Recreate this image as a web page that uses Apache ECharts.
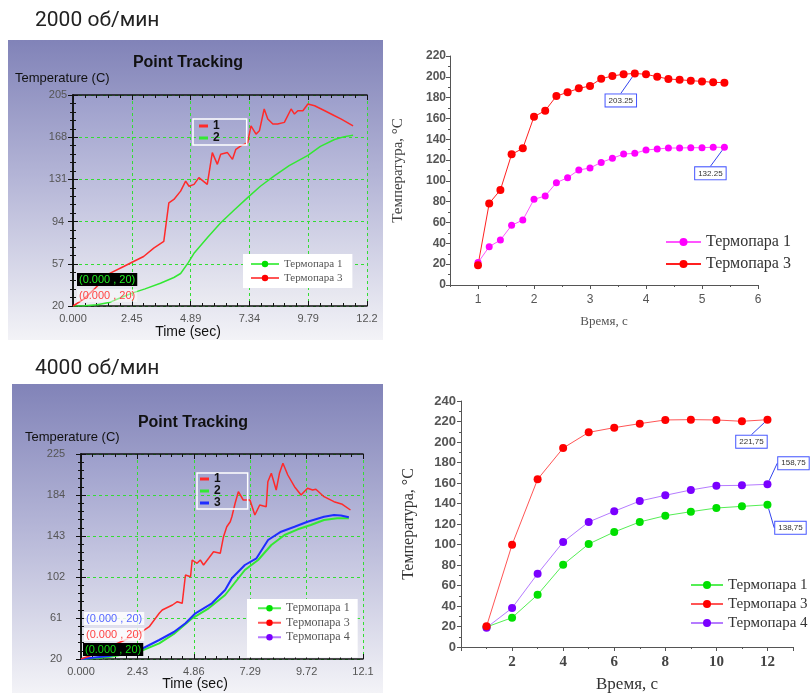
<!DOCTYPE html>
<html><head><meta charset="utf-8">
<script src="https://cdn.jsdelivr.net/npm/echarts@6/dist/echarts.min.js"></script>
<style>html,body{margin:0;padding:0;background:#fff}#c{width:811px;height:693px}</style>
</head><body><div id="c"></div>
<script>
// ---------- 2000 rpm, Point Tracking (left top) ----------
const tl_red_t = [0,0.45,0.92,1.55,2.11,2.52,2.94,3.36,3.78,3.99,4.2,4.48,4.69,4.83,5.04,5.24,5.59,5.8,6.01,6.15,6.43,6.64,6.78,6.99,7.27,7.41,7.62,7.76,7.96,8.11,8.32,8.52,8.8,9.08,9.22,9.36,9.57,9.78,10.06,10.48,10.89,11.17,11.66];
const tl_red_T = [20,26,35.6,48.8,54.6,59,63.4,70.8,76.7,110.4,113.4,120.7,129.5,125,126.6,132.5,126.6,154.5,144.2,153,154.5,148.6,157.4,160.4,163.3,178,170.7,173.6,192.7,183.9,179.5,179.5,181,192.7,188.3,191.2,191.2,197.1,195.6,191.2,186.8,183.9,178];
const tl_green_t = [0,0.5,1.0,1.5,2.0,2.52,3.0,3.64,4.2,4.48,4.8,5.03,5.6,6.15,6.7,7.27,7.8,8.38,9.0,9.78,10.3,10.89,11.3,11.66];
const tl_green_T = [20,20.2,21,23,27.5,31.7,35,40,45,48.5,58,66,80,93,104,115,125,134,143,152,160,166,168.5,169.8];
const tl_xTickLabels = ['0.000','2.45','4.89','7.34','9.79','12.2'];

// ---------- 4000 rpm, Point Tracking (left bottom) ----------
const bl_red_t = [0,0.6,1.24,1.9,2.52,2.94,3.37,3.5,3.94,4.15,4.36,4.5,4.72,4.79,5.0,5.14,5.28,5.5,5.71,6.0,6.14,6.28,6.43,6.5,6.64,6.78,6.99,7.28,7.49,7.7,7.98,8.05,8.2,8.41,8.55,8.7,8.91,9.2,9.48,9.76,9.98,10.12,10.47,10.9,11.26,11.61];
const bl_red_T = [20,25,32.3,39,45.7,52.3,65.7,69,74,77.3,75.7,104,102.3,119,115.7,119,114,120.7,127.3,125.7,142.3,152.3,157.3,162.3,175.7,187.3,179,179,164,174,172.3,197.3,205.7,189,205.7,215.7,204,192.3,184,190.7,189,189.7,182.3,177.3,174.7,169];
const bl_blue_t = [0,1.2,2.52,3.37,4.0,4.5,4.93,5.64,6.21,6.5,7.06,7.56,8.06,8.62,9.2,9.76,10.47,10.9,11.2,11.54];
const bl_blue_T = [20,23,29,39,47,55.7,65.7,75.7,89,100.7,114,120.7,139,147.3,152.3,157.3,162.3,164,163.5,161.7];
const bl_green_t = [0,1.2,2.52,3.37,4.0,4.79,5.5,6.21,7.06,7.63,8.2,8.77,9.34,9.9,10.47,11.04,11.54];
const bl_green_T = [20,22,27.3,35.7,45,60.7,70.7,84,109,119,134,144,149.7,154,159,160.7,160.7];
const bl_xTickLabels = ['0.000','2.43','4.86','7.29','9.72','12.1'];

// ---------- 2000 rpm, measured (right top) ----------
const tr_time = [1.0,1.2,1.4,1.6,1.8,2.0,2.2,2.4,2.6,2.8,3.0,3.2,3.4,3.6,3.8,4.0,4.2,4.4,4.6,4.8,5.0,5.2,5.4];
const tr_tc1 = [21.5,36.8,43.2,57.3,62.4,82.3,85.5,98.3,103.1,110.5,112.4,117.8,121.7,125.8,126.5,129.7,130.6,131.6,131.6,131.9,131.9,132.4,132.25];
const tr_tc3 = [19,78.4,91.3,125.5,131.3,161.7,167.5,181.5,185.1,188.9,191.2,198.2,200.8,202.5,203.25,202.4,200.1,197.9,197.2,196.3,195.6,194.7,194.4];
const tr_xTicks = [1,2,3,4,5,6];

// ---------- 4000 rpm, measured (right bottom) ----------
const br_time = [1,2,3,4,5,6,7,8,9,10,11,12];
const br_tc1 = [19.5,28.6,51,80.3,100.5,112.2,122,128.1,132,135.6,137.2,138.75];
const br_tc3 = [20.2,99.8,163.6,194.1,209.4,214,217.9,221.5,221.8,221.5,220.2,221.75];
const br_tc4 = [18.9,38,71.5,102.4,122,132.4,142.4,148,153.2,157.4,157.7,158.75];

const SANS = 'Liberation Sans, Arial, sans-serif';
const SERIF = 'Liberation Serif, Times New Roman, serif';

function zip(a, b) { return a.map((v, i) => [v, b[i]]); }
function annotate(xs, ys, idx, text) {
  return xs.map((v, i) => i === idx ? { value: [v, ys[i]], label: { show: true, formatter: text } } : [v, ys[i]]);
}

const chart = echarts.init(document.getElementById('c'), null, { renderer: 'canvas' });

const panelGrad = () => new echarts.graphic.LinearGradient(0, 0, 0, 1, [
  { offset: 0, color: '#8183b8' }, { offset: 0.45, color: '#b3b4d6' }, { offset: 1, color: '#f3f3f7' }]);
const plotGrad = () => new echarts.graphic.LinearGradient(0, 0, 0, 1, [
  { offset: 0, color: '#9c9ecb' }, { offset: 0.5, color: '#c4c5e0' }, { offset: 1, color: '#ececf2' }]);

function frameX(grid, min, max, interval, labels, pos) {
  return {
    gridIndex: grid, type: 'value', position: pos, min: min, max: max, interval: interval,
    axisLine: { show: true, onZero: false, lineStyle: { color: '#111', width: 1.5 } },
    axisTick: { show: true, inside: true, length: 5, lineStyle: { color: '#111' } },
    minorTick: { show: true, splitNumber: 5, length: 3, lineStyle: { color: '#111' } },
    axisLabel: labels ? { show: true, color: '#555', fontSize: 11, fontFamily: SANS, margin: 7,
      formatter: v => labels[Math.round(v / interval)] } : { show: false },
    splitLine: { show: !!labels, lineStyle: { color: '#33dd33', type: [3, 3], width: 1 } },
    minorSplitLine: { show: false }
  };
}
function frameY(grid, min, max, interval, pos, show, margin) {
  return {
    gridIndex: grid, type: 'value', position: pos, min: min, max: max, interval: interval,
    axisLine: { show: true, lineStyle: { color: '#111', width: 1.5 } },
    axisTick: { show: true, inside: true, length: 5, lineStyle: { color: '#111' } },
    minorTick: { show: true, splitNumber: 5, length: 3, lineStyle: { color: '#111' } },
    axisLabel: show ? { show: true, color: '#555', fontSize: 11, fontFamily: SANS, margin: margin, align: 'center' } : { show: false },
    splitLine: { show: show, lineStyle: { color: '#33dd33', type: [3, 3], width: 1 } },
    minorSplitLine: { show: false }
  };
}

const annLabel = { show: false, position: 'inside', fontSize: 8, fontFamily: SANS, color: '#333',
  backgroundColor: '#fff', borderColor: '#4455ff', borderWidth: 1, padding: [2, 3] };
const annLine = { show: true, lineStyle: { color: '#3344ee', width: 1 } };

const option = {
  animation: false,
  backgroundColor: '#fff',
  grid: [
    { left: 73, top: 95, width: 294, height: 211, show: true, backgroundColor: plotGrad(), borderWidth: 0, outerBoundsMode: 'none' },
    { left: 450, top: 56, width: 308, height: 229, outerBoundsMode: 'none' },
    { left: 81, top: 454, width: 282, height: 205, show: true, backgroundColor: plotGrad(), borderWidth: 0, outerBoundsMode: 'none' },
    { left: 461, top: 401, width: 332, height: 246, outerBoundsMode: 'none' }
  ],
  xAxis: [
    frameX(0, 0, 12.24, 2.448, tl_xTickLabels, 'bottom'),
    frameX(0, 0, 12.24, 2.448, null, 'top'),
    frameX(2, 0, 12.15, 2.43, bl_xTickLabels, 'bottom'),
    frameX(2, 0, 12.15, 2.43, null, 'top'),
    { gridIndex: 1, type: 'value', position: 'bottom', min: 0.5, max: 6, interval: 0.5,
      axisLine: { show: true, onZero: false, lineStyle: { color: '#555', width: 1 } },
      axisTick: { show: true, length: 4, customValues: tr_xTicks, lineStyle: { color: '#555' } },
      axisLabel: { show: true, customValues: tr_xTicks, color: '#555', fontSize: 12, fontFamily: SANS, margin: 9 },
      splitLine: { show: false },
      name: 'Время, с', nameLocation: 'middle', nameGap: 30,
      nameTextStyle: { fontFamily: SERIF, fontSize: 13, color: '#555' } },
    { gridIndex: 1, type: 'value', position: 'bottom', min: 0.5, max: 6, interval: 0.5,
      axisLine: { show: false, onZero: false },
      axisTick: { show: true, length: 2, lineStyle: { color: '#555' } },
      axisLabel: { show: false }, splitLine: { show: false } },
    { gridIndex: 3, type: 'value', position: 'bottom', min: 0, max: 13, interval: 2,
      axisLine: { show: true, onZero: false, lineStyle: { color: '#555', width: 1 } },
      axisTick: { show: true, length: 4, lineStyle: { color: '#555' } },
      minorTick: { show: true, splitNumber: 2, length: 2, lineStyle: { color: '#555' } },
      axisLabel: { show: true, color: '#444', fontSize: 15, fontWeight: 'bold', fontFamily: SERIF, margin: 8,
        formatter: v => (v === 0 || v > 12) ? '' : String(v) },
      splitLine: { show: false },
      name: 'Время, с', nameLocation: 'middle', nameGap: 29,
      nameTextStyle: { fontFamily: SERIF, fontSize: 17, color: '#333' } }
  ],
  yAxis: [
    frameY(0, 20, 205, 37, 'left', true, 15),
    frameY(0, 20, 205, 37, 'right', false, 0),
    frameY(2, 20, 225, 41, 'left', true, 25),
    frameY(2, 20, 225, 41, 'right', false, 0),
    { gridIndex: 1, type: 'value', min: 0, max: 220, interval: 20,
      axisLine: { show: true, lineStyle: { color: '#555', width: 1 } },
      axisTick: { show: true, length: 4, lineStyle: { color: '#555' } },
      minorTick: { show: true, splitNumber: 2, length: 2, lineStyle: { color: '#555' } },
      axisLabel: { color: '#555', fontSize: 12, fontWeight: 'bold', fontFamily: SANS, margin: 4 },
      splitLine: { show: false },
      name: 'Температура, °C', nameLocation: 'middle', nameGap: 44, nameRotate: 90,
      nameTextStyle: { fontFamily: SERIF, fontSize: 15, color: '#444' } },
    { gridIndex: 3, type: 'value', min: 0, max: 240, interval: 20,
      axisLine: { show: true, lineStyle: { color: '#555', width: 1 } },
      axisTick: { show: true, length: 4, lineStyle: { color: '#555' } },
      minorTick: { show: true, splitNumber: 2, length: 2, lineStyle: { color: '#555' } },
      axisLabel: { color: '#555', fontSize: 13, fontWeight: 'bold', fontFamily: SANS, margin: 5 },
      splitLine: { show: false },
      name: 'Температура, °C', nameLocation: 'middle', nameGap: 44, nameRotate: 90,
      nameTextStyle: { fontFamily: SERIF, fontSize: 16, color: '#333' } }
  ],
  legend: [
    { left: 193, top: 119, orient: 'vertical', icon: 'rect', itemWidth: 9, itemHeight: 3, itemGap: 0,
      padding: [1, 27, 1, 6], borderColor: '#fff', borderWidth: 1.5,
      textStyle: { fontSize: 12, fontWeight: 'bold', color: '#111', fontFamily: SANS, lineHeight: 11 },
      data: ['1', '2'] },
    { left: 243, top: 254, orient: 'vertical', itemWidth: 28, itemHeight: 8, itemGap: 0,
      padding: [3, 10, 3, 7], backgroundColor: '#fff',
      textStyle: { fontSize: 11, color: '#555', fontFamily: SERIF, lineHeight: 14 },
      data: [{ name: 'Термопара 1', itemStyle: { color: '#00e000' }, lineStyle: { color: '#55ee55' } },
             { name: 'Термопара 3', itemStyle: { color: '#ff0000' }, lineStyle: { color: '#ff5555' } }] },
    { left: 665, top: 234, orient: 'vertical', itemWidth: 35, itemHeight: 10, itemGap: 6, padding: 0,
      textStyle: { fontSize: 16, color: '#333', fontFamily: SERIF, lineHeight: 16 },
      data: [{ name: 'Термопара 1', itemStyle: { color: '#ff00ff' }, lineStyle: { color: '#ff55ff' } },
             { name: 'Термопара 3', itemStyle: { color: '#ff0000' }, lineStyle: { color: '#ff2020' } }] },
    { left: 197, top: 473, orient: 'vertical', icon: 'rect', itemWidth: 9, itemHeight: 3, itemGap: 0,
      padding: [0, 27, 0, 3], borderColor: '#fff', borderWidth: 1.5,
      textStyle: { fontSize: 12, fontWeight: 'bold', color: '#111', fontFamily: SANS, lineHeight: 10 },
      data: ['1', '2', '3'] },
    { left: 247, top: 599, orient: 'vertical', itemWidth: 23, itemHeight: 8, itemGap: 0,
      padding: [2, 8, 13, 10], backgroundColor: '#fff',
      textStyle: { fontSize: 12, color: '#555', fontFamily: SERIF, lineHeight: 14.5 },
      data: [{ name: 'Термопара 1', itemStyle: { color: '#00e000' }, lineStyle: { color: '#55ee55' } },
             { name: 'Термопара 3', itemStyle: { color: '#ff0000' }, lineStyle: { color: '#ff5555' } },
             { name: 'Термопара 4', itemStyle: { color: '#7a00ff' }, lineStyle: { color: '#b57bff' } }] },
    { left: 690, top: 577, orient: 'vertical', itemWidth: 32, itemHeight: 10, itemGap: 3, padding: 0,
      textStyle: { fontSize: 15, color: '#333', fontFamily: SERIF, lineHeight: 16 },
      data: [{ name: 'Термопара 1', itemStyle: { color: '#00e000' }, lineStyle: { color: '#55ee55' } },
             { name: 'Термопара 3', itemStyle: { color: '#ff0000' }, lineStyle: { color: '#ff5555' } },
             { name: 'Термопара 4', itemStyle: { color: '#7a00ff' }, lineStyle: { color: '#b57bff' } }] }
  ],
  series: [
    { name: '2', type: 'line', xAxisIndex: 0, yAxisIndex: 0, showSymbol: false, symbol: 'none',
      data: zip(tl_green_t, tl_green_T), color: '#33e833', lineStyle: { width: 1.5, color: '#33e833' } },
    { name: '1', type: 'line', xAxisIndex: 0, yAxisIndex: 0, showSymbol: false, symbol: 'none',
      data: zip(tl_red_t, tl_red_T), color: '#ff2a2a', lineStyle: { width: 1.5, color: '#ff2a2a' } },
    { name: '2', type: 'line', xAxisIndex: 2, yAxisIndex: 2, showSymbol: false, symbol: 'none',
      data: zip(bl_green_t, bl_green_T), color: '#33e833', lineStyle: { width: 2, color: '#33e833' } },
    { name: '3', type: 'line', xAxisIndex: 2, yAxisIndex: 2, showSymbol: false, symbol: 'none',
      data: zip(bl_blue_t, bl_blue_T), color: '#1f2dff', lineStyle: { width: 2, color: '#1f2dff' } },
    { name: '1', type: 'line', xAxisIndex: 2, yAxisIndex: 2, showSymbol: false, symbol: 'none',
      data: zip(bl_red_t, bl_red_T), color: '#ff2a2a', lineStyle: { width: 1.5, color: '#ff2a2a' } },
    { name: 'Термопара 1', type: 'line', xAxisIndex: 4, yAxisIndex: 4, symbol: 'circle', symbolSize: 7,
      itemStyle: { color: '#ff00ff' }, lineStyle: { width: 1, color: '#ff55ff' },
      data: annotate(tr_time, tr_tc1, tr_time.length - 1, '132.25'),
      label: annLabel, labelLine: annLine, labelLayout: { dx: -14, dy: 26 } },
    { name: 'Термопара 3', type: 'line', xAxisIndex: 4, yAxisIndex: 4, symbol: 'circle', symbolSize: 8,
      itemStyle: { color: '#ff0000' }, lineStyle: { width: 1, color: '#ff2020' },
      data: annotate(tr_time, tr_tc3, 14, '203.25'),
      label: annLabel, labelLine: annLine, labelLayout: { dx: -14, dy: 27 } },
    { name: 'Термопара 1', type: 'line', xAxisIndex: 6, yAxisIndex: 5, symbol: 'circle', symbolSize: 8,
      itemStyle: { color: '#00e000' }, lineStyle: { width: 1, color: '#55ee55' },
      data: annotate(br_time, br_tc1, br_time.length - 1, '138,75'),
      label: annLabel, labelLine: annLine, labelLayout: { dx: 23, dy: 23 } },
    { name: 'Термопара 4', type: 'line', xAxisIndex: 6, yAxisIndex: 5, symbol: 'circle', symbolSize: 8,
      itemStyle: { color: '#7a00ff' }, lineStyle: { width: 1, color: '#b57bff' },
      data: annotate(br_time, br_tc4, br_time.length - 1, '158,75'),
      label: annLabel, labelLine: annLine, labelLayout: { dx: 26, dy: -21 } },
    { name: 'Термопара 3', type: 'line', xAxisIndex: 6, yAxisIndex: 5, symbol: 'circle', symbolSize: 8,
      itemStyle: { color: '#ff0000' }, lineStyle: { width: 1, color: '#ff5555' },
      data: annotate(br_time, br_tc3, br_time.length - 1, '221,75'),
      label: annLabel, labelLine: annLine, labelLayout: { dx: -16, dy: 22 } }
  ],
  graphic: [
    { type: 'rect', z: -10, silent: true, shape: { x: 8, y: 40, width: 375, height: 300 }, style: { fill: panelGrad() } },
    { type: 'rect', z: -10, silent: true, shape: { x: 12, y: 384, width: 371, height: 309 }, style: { fill: panelGrad() } },
    { type: 'text', z: 100, style: { x: 35, y: 21, text: '2000 об/мин', font: '21px Roboto, sans-serif', fill: '#222', verticalAlign: 'middle' } },
    { type: 'text', z: 100, style: { x: 35, y: 369, text: '4000 об/мин', font: '21px Roboto, sans-serif', fill: '#222', verticalAlign: 'middle' } },
    { type: 'text', z: 100, style: { x: 188, y: 63, text: 'Point Tracking', font: 'bold 16px ' + SANS, fill: '#111', align: 'center', verticalAlign: 'middle' } },
    { type: 'text', z: 100, style: { x: 193, y: 423, text: 'Point Tracking', font: 'bold 16px ' + SANS, fill: '#111', align: 'center', verticalAlign: 'middle' } },
    { type: 'text', z: 100, style: { x: 15, y: 78, text: 'Temperature (C)', font: '13px ' + SANS, fill: '#111', verticalAlign: 'middle' } },
    { type: 'text', z: 100, style: { x: 25, y: 437, text: 'Temperature (C)', font: '13px ' + SANS, fill: '#111', verticalAlign: 'middle' } },
    { type: 'text', z: 100, style: { x: 188, y: 332, text: 'Time (sec)', font: '14px ' + SANS, fill: '#111', align: 'center', verticalAlign: 'middle' } },
    { type: 'text', z: 100, style: { x: 195, y: 684, text: 'Time (sec)', font: '14px ' + SANS, fill: '#111', align: 'center', verticalAlign: 'middle' } },
    { type: 'text', z: 100, style: { x: 77, y: 273, text: '(0.000 , 20)', font: '11px ' + SANS, fill: '#22ee22', backgroundColor: '#000', padding: [1, 2] } },
    { type: 'text', z: 100, style: { x: 77, y: 289, text: '(0.000 , 20)', font: '11px ' + SANS, fill: '#ff4444', backgroundColor: 'rgba(255,255,255,0.45)', padding: [1, 2] } },
    { type: 'text', z: 100, style: { x: 84, y: 612, text: '(0.000 , 20)', font: '11px ' + SANS, fill: '#5566ff', backgroundColor: 'rgba(255,255,255,0.85)', padding: [1, 2] } },
    { type: 'text', z: 100, style: { x: 84, y: 628, text: '(0.000 , 20)', font: '11px ' + SANS, fill: '#ff4444', backgroundColor: 'rgba(255,255,255,0.8)', padding: [1, 2] } },
    { type: 'text', z: 100, style: { x: 83, y: 643, text: '(0.000 , 20)', font: '11px ' + SANS, fill: '#11dd11', backgroundColor: '#000', padding: [1, 2] } }
  ]
};
chart.setOption(option);
</script></body></html>
